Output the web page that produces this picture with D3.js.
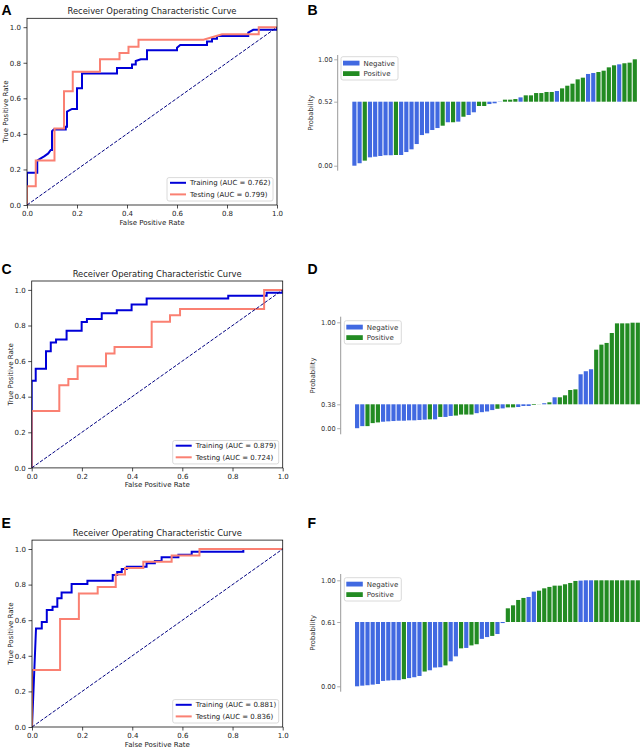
<!DOCTYPE html>
<html><head><meta charset="utf-8">
<script src="https://cdn.jsdelivr.net/npm/d3@7"></script>
<style>
body{margin:0;background:#fff}
svg{display:block;font-family:"DejaVu Sans",sans-serif}
</style>
</head><body>
<svg id="chart" width="642" height="747"></svg>
<script>
// ---------------- DATA ----------------
const rocTicks = [0, 0.2, 0.4, 0.6, 0.8, 1.0];
const seriesNames = ["Training", "Testing"];
const aucA = [0.762, 0.799];
const aucC = [0.879, 0.724];
const aucE = [0.881, 0.836];

// ROC points [false positive rate, true positive rate]
const rocTrainA = [[0,0],[0,0.182],[0.041,0.182],[0.041,0.25],[0.055,0.262],[0.07,0.275],[0.085,0.29],[0.095,0.31],[0.1,0.31],[0.1,0.415],[0.107,0.425],[0.155,0.425],[0.155,0.44],[0.16,0.44],[0.16,0.525],[0.18,0.54],[0.2,0.54],[0.2,0.656],[0.22,0.656],[0.22,0.74],[0.36,0.74],[0.36,0.77],[0.42,0.77],[0.42,0.79],[0.435,0.79],[0.435,0.81],[0.455,0.82],[0.48,0.82],[0.48,0.87],[0.6,0.87],[0.6,0.885],[0.613,0.9],[0.72,0.9],[0.72,0.92],[0.74,0.92],[0.74,0.935],[0.76,0.935],[0.76,0.95],[0.885,0.95],[0.885,0.97],[0.905,0.985],[1,0.985],[1,1]];
const rocTestA = [[0,0],[0,0.105],[0.035,0.105],[0.035,0.25],[0.11,0.25],[0.11,0.43],[0.148,0.43],[0.148,0.64],[0.183,0.64],[0.183,0.75],[0.292,0.75],[0.292,0.82],[0.37,0.82],[0.37,0.855],[0.406,0.855],[0.406,0.89],[0.446,0.89],[0.446,0.93],[0.706,0.93],[0.78,0.96],[0.927,0.96],[0.927,1],[1,1]];
const rocTrainC = [[0,0],[0,0.49],[0.016,0.49],[0.016,0.557],[0.057,0.557],[0.057,0.656],[0.076,0.656],[0.076,0.705],[0.097,0.705],[0.097,0.721],[0.139,0.721],[0.139,0.77],[0.199,0.77],[0.199,0.82],[0.22,0.82],[0.22,0.836],[0.279,0.836],[0.279,0.869],[0.339,0.869],[0.339,0.885],[0.398,0.885],[0.398,0.918],[0.458,0.918],[0.458,0.951],[0.783,0.951],[0.783,0.967],[0.936,0.967],[0.936,0.984],[1,0.984],[1,1]];
const rocTestC = [[0,0],[0,0.32],[0.11,0.32],[0.11,0.464],[0.146,0.464],[0.146,0.5],[0.183,0.5],[0.183,0.571],[0.296,0.571],[0.296,0.643],[0.33,0.643],[0.33,0.679],[0.478,0.679],[0.478,0.821],[0.551,0.821],[0.551,0.857],[0.591,0.857],[0.591,0.893],[0.926,0.893],[0.926,1],[1,1]];
const rocTrainE = [[0,0],[0.016,0.554],[0.039,0.554],[0.039,0.59],[0.059,0.59],[0.059,0.657],[0.082,0.657],[0.082,0.676],[0.101,0.676],[0.101,0.723],[0.118,0.723],[0.118,0.755],[0.158,0.755],[0.158,0.803],[0.221,0.803],[0.221,0.822],[0.322,0.822],[0.322,0.854],[0.34,0.854],[0.34,0.871],[0.358,0.871],[0.358,0.888],[0.378,0.888],[0.378,0.9],[0.457,0.9],[0.457,0.92],[0.49,0.92],[0.49,0.932],[0.517,0.932],[0.517,0.953],[0.584,0.953],[0.584,0.968],[0.637,0.968],[0.637,0.985],[0.843,0.985],[0.843,1],[1,1]];
const rocTestE = [[0,0],[0,0.32],[0.112,0.32],[0.112,0.607],[0.187,0.607],[0.187,0.75],[0.262,0.75],[0.262,0.786],[0.334,0.786],[0.334,0.857],[0.371,0.857],[0.371,0.893],[0.444,0.893],[0.444,0.929],[0.557,0.929],[0.557,0.964],[0.668,0.964],[0.668,1],[1,1]];

// Waterfall probabilities (sorted) and true class (1 = Positive, 0 = Negative)
const classNames = ["Negative", "Positive"];
const thresholdB = 0.52, thresholdD = 0.38, thresholdF = 0.61;
const probB = [0.000,0.020,0.041,0.068,0.073,0.079,0.085,0.085,0.087,0.087,0.111,0.133,0.176,0.249,0.263,0.290,0.306,0.325,0.353,0.353,0.358,0.398,0.412,0.434,0.485,0.485,0.501,0.507,0.518,0.543,0.543,0.550,0.569,0.592,0.592,0.618,0.618,0.630,0.630,0.641,0.671,0.701,0.724,0.773,0.792,0.834,0.845,0.856,0.871,0.909,0.932,0.943,0.955,0.962,1.000];
const labelB = [0,0,1,0,0,0,0,0,1,0, 0,0,0,0,0,0,0,1,0,1, 0,1,0,0,1,1,0,0,0,1, 1,1,0,1,1,1,1,1,1,0, 1,1,1,1,1,0,0,1,1,1, 1,0,1,1,1];
const probD = [0.000,0.033,0.033,0.081,0.092,0.103,0.109,0.114,0.119,0.119,0.125,0.125,0.130,0.136,0.141,0.141,0.179,0.179,0.195,0.201,0.217,0.217,0.217,0.239,0.255,0.266,0.288,0.309,0.315,0.331,0.331,0.337,0.353,0.353,0.369,0.378,0.388,0.395,0.433,0.433,0.448,0.488,0.493,0.607,0.630,0.645,0.793,0.831,0.844,0.919,0.992,0.992,0.992,0.997,0.997];
const labelD = [0,0,1,1,1,0,0,0,0,0, 0,0,0,0,1,0,1,0,0,1, 1,1,1,0,0,0,0,1,0,1, 1,0,0,0,1,1,0,1,0,1, 1,1,1,0,0,0,1,1,1,1, 1,1,1,1,1];
const probF = [0.000,0.006,0.010,0.016,0.022,0.051,0.055,0.058,0.058,0.068,0.078,0.086,0.098,0.140,0.152,0.178,0.181,0.198,0.237,0.284,0.360,0.364,0.388,0.399,0.450,0.467,0.478,0.496,0.600,0.738,0.766,0.816,0.835,0.844,0.894,0.903,0.925,0.938,0.950,0.950,0.963,0.975,0.994,0.997,1.000,1.000,1.000,1.000,1.000,1.000,1.000,1.000,1.000,1.000,1.000];
const labelF = [0,0,0,0,0,0,0,0,0,1, 0,0,0,1,0,0,0,1,0,0, 1,0,1,1,0,0,1,0,0,1, 1,1,1,0,0,1,1,1,1,1, 1,1,1,0,0,0,1,1,1,1, 1,1,1,1,1];

// ---------------- STYLE ----------------
const COL_TRAIN = "#0000d8", COL_TEST = "#fa8072", COL_DIAG = "#000080";
const COL_NEG = "#4169e1", COL_POS = "#228b22";
const FONT = 7;

const svg = d3.select("#chart");
const defs = svg.append("defs");

function panelLetter(txt, x, y) {
  svg.append("text").attr("x", x).attr("y", y)
    .attr("font-family", "'Liberation Sans', Arial, sans-serif")
    .attr("font-weight", "bold").attr("font-size", 14).text(txt);
}

function rocPanel(cfg) {
  const x = d3.scaleLinear().domain([0, 1]).range([cfg.x0, cfg.x1]);
  const unit = cfg.unit;
  const y = d3.scaleLinear().domain([0, 1.05]).range([cfg.y0, cfg.y0 - 1.05 * unit]);
  const g = svg.append("g");
  const id = "clip" + cfg.letter;
  defs.append("clipPath").attr("id", id).append("rect")
    .attr("x", cfg.x0).attr("y", y(1.05)).attr("width", cfg.x1 - cfg.x0).attr("height", cfg.y0 - y(1.05));

  const line = d3.line().x(d => x(d[0])).y(d => y(d[1]));
  const lg = g.append("g").attr("clip-path", `url(#${id})`);
  lg.append("path").datum(cfg.train).attr("d", line).attr("fill", "none")
    .attr("stroke", COL_TRAIN).attr("stroke-width", 2).attr("stroke-linejoin", "miter");
  lg.append("path").datum(cfg.test).attr("d", line).attr("fill", "none")
    .attr("stroke", COL_TEST).attr("stroke-width", 2);
  lg.append("path").datum([[0, 0], [1, 1]]).attr("d", line).attr("fill", "none")
    .attr("stroke", COL_DIAG).attr("stroke-width", 1).attr("stroke-dasharray", "3.5,1.6");

  // axes
  const xa = g.append("g").attr("transform", `translate(0,${cfg.y0})`)
    .call(d3.axisBottom(x).tickValues(rocTicks).tickFormat(d3.format(".1f")).tickSize(3.5).tickPadding(2.5));
  const ya = g.append("g").attr("transform", `translate(${cfg.x0},0)`)
    .call(d3.axisLeft(y).tickValues(rocTicks).tickFormat(d3.format(".1f")).tickSize(3.5).tickPadding(2.5));
  [xa, ya].forEach(a => {
    a.select(".domain").remove();
    a.selectAll("text").attr("font-size", FONT).attr("font-family", "DejaVu Sans").attr("fill", "#222");
    a.selectAll("line").attr("stroke", "#222").attr("stroke-width", 0.8);
  });
  g.append("rect").attr("x", cfg.x0).attr("y", y(1.05)).attr("width", cfg.x1 - cfg.x0)
    .attr("height", cfg.y0 - y(1.05)).attr("fill", "none").attr("stroke", "#111").attr("stroke-width", 0.8);

  // title & labels
  const cx = (cfg.x0 + cfg.x1) / 2;
  g.append("text").attr("x", cx).attr("y", y(1.05) - 4).attr("text-anchor", "middle")
    .attr("font-size", 8.4).attr("fill", "#222").text("Receiver Operating Characteristic Curve");
  g.append("text").attr("x", cx).attr("y", cfg.y0 + 19.5).attr("text-anchor", "middle")
    .attr("font-size", FONT).attr("fill", "#222").text("False Positive Rate");
  const cy = (cfg.y0 + y(1.05)) / 2;
  g.append("text").attr("transform", `translate(${cfg.ylabX},${cy}) rotate(-90)`).attr("text-anchor", "middle")
    .attr("font-size", FONT).attr("fill", "#222").text("True Positive Rate");

  // legend
  const lw = 106, lh = 23.4;
  const lx = cfg.x1 - 4 - lw, ly = cfg.y0 - 4 - lh;
  const leg = g.append("g");
  leg.append("rect").attr("x", lx).attr("y", ly).attr("width", lw).attr("height", lh).attr("rx", 2)
    .attr("fill", "#fff").attr("fill-opacity", 0.8).attr("stroke", "#d0d0d0").attr("stroke-width", 0.8);
  [COL_TRAIN, COL_TEST].forEach((c, i) => {
    const yy = ly + 5.2 + i * 11.6;
    leg.append("line").attr("x1", lx + 3).attr("x2", lx + 19).attr("y1", yy).attr("y2", yy)
      .attr("stroke", c).attr("stroke-width", 2);
    leg.append("text").attr("x", lx + 23).attr("y", yy).attr("dy", "0.35em")
      .attr("font-size", FONT).attr("fill", "#222")
      .text(`${seriesNames[i]} (AUC = ${cfg.auc[i].toFixed(3)})`);
  });
  panelLetter(cfg.letter, cfg.letterX, cfg.letterY);
}

function barPanel(cfg) {
  const idx = d3.range(cfg.prob.length);
  const x = d3.scaleBand().domain(idx).range([cfg.bandStart, cfg.bandEnd]).paddingInner(0.2).paddingOuter(0.1);
  const y = d3.scaleLinear().domain([0, cfg.thr, 1]).range(cfg.yRange);
  const g = svg.append("g");
  g.selectAll("rect.bar").data(idx).join("rect").attr("class", "bar")
    .attr("x", i => x(i)).attr("width", x.bandwidth())
    .attr("y", i => Math.min(y(cfg.prob[i]), y(cfg.thr)))
    .attr("height", i => Math.abs(y(cfg.prob[i]) - y(cfg.thr)))
    .attr("fill", i => cfg.label[i] ? COL_POS : COL_NEG);

  // spine + ticks
  g.append("line").attr("x1", cfg.spineX).attr("x2", cfg.spineX)
    .attr("y1", cfg.spineTop).attr("y2", cfg.spineBottom).attr("stroke", "#999").attr("stroke-width", 1);
  const ya = g.append("g").attr("transform", `translate(${cfg.spineX},0)`)
    .call(d3.axisLeft(y).tickValues([0, cfg.thr, 1]).tickFormat(d3.format(".2f")).tickSize(3.5).tickPadding(1.5));
  ya.select(".domain").remove();
  ya.selectAll("text").attr("font-size", 6.6).attr("font-family", "DejaVu Sans").attr("fill", "#333");
  ya.selectAll("line").attr("stroke", "#999").attr("stroke-width", 0.8);

  g.append("text").attr("transform", `translate(${cfg.ylabX},${(cfg.spineTop + cfg.spineBottom) / 2}) rotate(-90)`)
    .attr("text-anchor", "middle").attr("font-size", 6.8).attr("fill", "#333").text("Probability");

  // legend
  const lx = cfg.legX, ly = cfg.legY, lw = 57, lh = 23.3;
  g.append("rect").attr("x", lx).attr("y", ly).attr("width", lw).attr("height", lh).attr("rx", 2)
    .attr("fill", "#fff").attr("fill-opacity", 0.8).attr("stroke", "#d0d0d0").attr("stroke-width", 0.8);
  [COL_NEG, COL_POS].forEach((c, i) => {
    const yy = ly + 6.4 + i * 10.5;
    g.append("rect").attr("x", lx + 2).attr("y", yy - 2.4).attr("width", 16.5).attr("height", 4.8).attr("fill", c);
    g.append("text").attr("x", lx + 22.5).attr("y", yy).attr("dy", "0.35em")
      .attr("font-size", FONT).attr("fill", "#333").text(classNames[i]);
  });
  panelLetter(cfg.letter, cfg.letterX, cfg.letterY);
}

rocPanel({letter: "A", letterX: 1.5, letterY: 15, x0: 27, x1: 277, y0: 205, unit: 177.8, ylabX: 8,
  train: rocTrainA, test: rocTestA, auc: aucA});
rocPanel({letter: "C", letterX: 1.5, letterY: 273.5, x0: 31.7, x1: 282.7, y0: 467.9, unit: 178, ylabX: 12.5,
  train: rocTrainC, test: rocTestC, auc: aucC});
rocPanel({letter: "E", letterX: 1.5, letterY: 527.5, x0: 32, x1: 282.7, y0: 727, unit: 178, ylabX: 12.5,
  train: rocTrainE, test: rocTestE, auc: aucE});

barPanel({letter: "B", letterX: 307.5, letterY: 15, prob: probB, label: labelB, thr: thresholdB,
  yRange: [165.7, 101.7, 59.3], bandStart: 351.8, bandEnd: 637.4, spineX: 337.7, spineTop: 55, spineBottom: 170.7,
  ylabX: 313, legX: 341, legY: 56.7});
barPanel({letter: "D", letterX: 307.5, letterY: 273.5, prob: probD, label: labelD, thr: thresholdD,
  yRange: [428.2, 404.3, 322.3], bandStart: 354.5, bandEnd: 640.4, spineX: 340.7, spineTop: 316.7, spineBottom: 434.3,
  ylabX: 315, legX: 344.3, legY: 320.7});
barPanel({letter: "F", letterX: 307.5, letterY: 527.5, prob: probF, label: labelF, thr: thresholdF,
  yRange: [686.3, 622, 580.3], bandStart: 354.5, bandEnd: 640.4, spineX: 340.7, spineTop: 574, spineBottom: 691.7,
  ylabX: 315, legX: 344.3, legY: 577.7});
</script>
</body></html>
